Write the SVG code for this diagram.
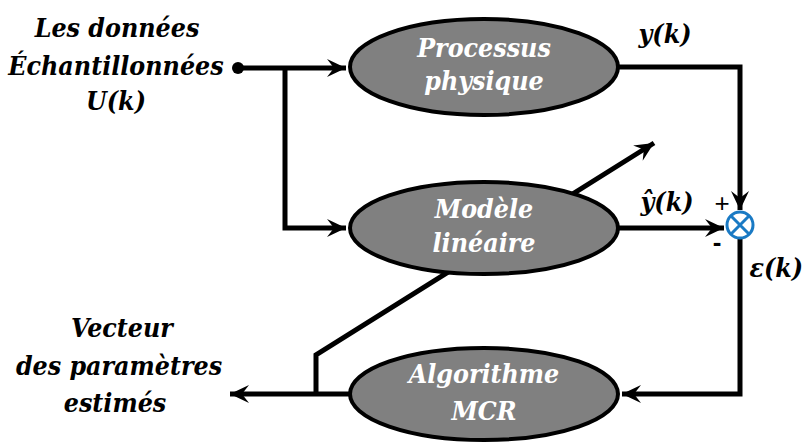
<svg xmlns="http://www.w3.org/2000/svg" width="806" height="442" viewBox="0 0 806 442">
<style>
.lbl{font-weight:bold;font-style:italic;font-size:26.5px;font-stretch:condensed;fill:#000;text-anchor:middle}
.nt{font-weight:bold;font-style:italic;font-size:26.5px;font-stretch:condensed;fill:#fff;text-anchor:middle}
.node{fill:#808080;stroke:#000;stroke-width:4}
.wire{fill:none;stroke:#000;stroke-width:5;stroke-linejoin:miter}
.arr{marker-end:url(#ah)}
</style>
<defs>
<marker id="ah" markerUnits="userSpaceOnUse" markerWidth="26" markerHeight="22" viewBox="-20 -11 22 22" refX="0" refY="0" orient="auto">
<path d="M0,0 L-19,-9 L-12,0 L-19,9 Z" fill="#000"/>
</marker>
</defs>
<g id="connectors">
<circle cx="238" cy="68" r="6" fill="#000"/>
<path class="wire arr" d="M238,68 H346"/>
<path class="wire arr" d="M285,68 V228 H346"/>
<path class="wire arr" d="M618,67 H740 V210"/>
<path class="wire arr" d="M618,228 H724"/>
<path class="wire arr" d="M740,238 V394 H622"/>
<path class="wire arr" d="M350,394 H230"/>
<path class="wire arr" d="M316,394 V355 L654,143"/>
</g>
<g font-family="DejaVu Serif Condensed, DejaVu Serif, serif">
<g id="processus">
<ellipse class="node" cx="484" cy="67" rx="134" ry="48"/>
<text class="nt" x="484" y="57">Processus</text>
<text class="nt" x="484" y="90">physique</text>
</g>
<g id="modele">
<ellipse class="node" cx="484" cy="228" rx="134" ry="46"/>
<text class="nt" x="484" y="218">Modèle</text>
<text class="nt" x="484" y="252">linéaire</text>
</g>
<g id="algorithme">
<ellipse class="node" cx="484" cy="394" rx="134" ry="46"/>
<text class="nt" x="484" y="383">Algorithme</text>
<text class="nt" x="484" y="420">MCR</text>
</g>
<g id="labels">
<text class="lbl" x="117" y="37">Les données</text>
<text class="lbl" x="116" y="75">Échantillonnées</text>
<text class="lbl" x="116" y="110">U(k)</text>
<text class="lbl" x="665" y="43">y(k)</text>
<text class="lbl" x="667" y="211">ŷ(k)</text>
<text class="lbl" x="803" y="277" style="text-anchor:end">ε(k)</text>
<text class="lbl" x="122" y="337">Vecteur</text>
<text class="lbl" x="119" y="375">des paramètres</text>
<text class="lbl" x="115" y="412">estimés</text>
</g>
</g>
<g id="sum">
<circle cx="740" cy="225" r="13" fill="#fff" stroke="#1a7ac4" stroke-width="3"/>
<path d="M730.8,215.8 L749.2,234.2 M749.2,215.8 L730.8,234.2" stroke="#1a7ac4" stroke-width="3"/>
<text x="722" y="212" font-family="Liberation Sans, Arial, sans-serif" font-size="26" text-anchor="middle">+</text>
<text x="717" y="251" font-family="Liberation Sans, Arial, sans-serif" font-size="26" font-weight="bold" text-anchor="middle">-</text>
</g>
</svg>
